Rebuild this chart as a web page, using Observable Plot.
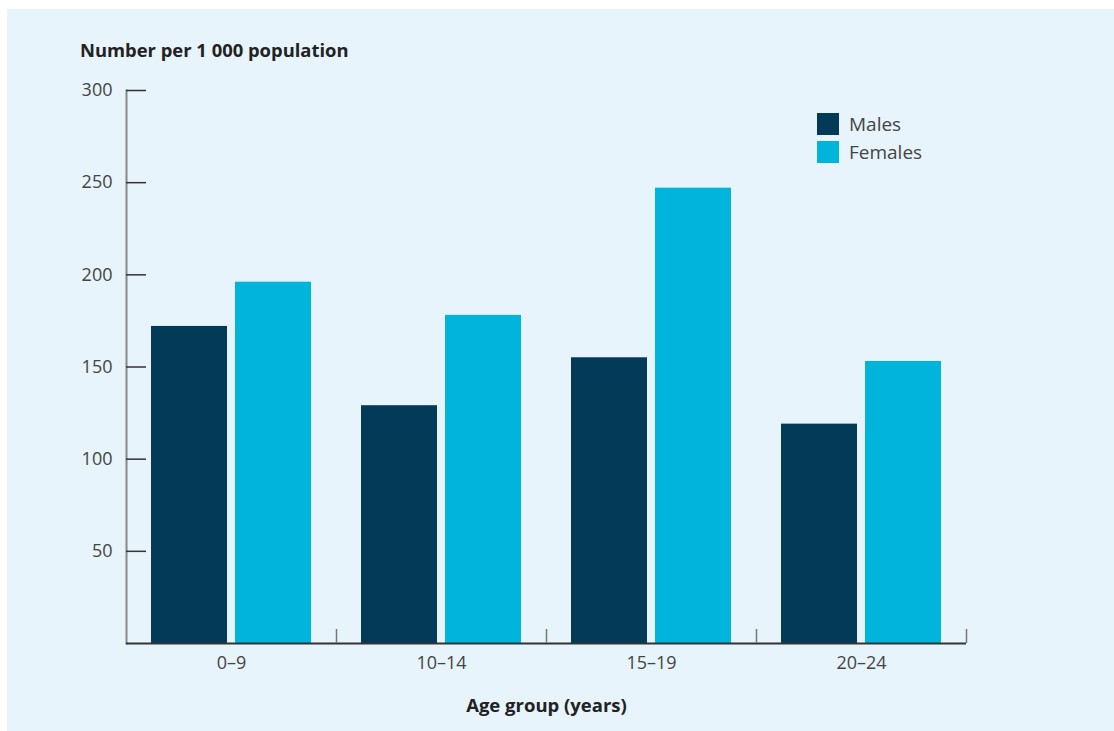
<!DOCTYPE html>
<html>
<head>
<meta charset="utf-8">
<script src="https://cdn.jsdelivr.net/npm/d3@7"></script>
<script src="https://cdn.jsdelivr.net/npm/@observablehq/plot@0.6"></script>
<style>
  html, body { margin: 0; padding: 0; background: #ffffff; }
  #panel {
    position: absolute; left: 7px; top: 9px; width: 1107px; height: 722px;
    background: #e7f4fb; font-family: "Open Sans", "Noto Sans", sans-serif; color: #222;
  }
  #title {
    height: 61px; box-sizing: border-box; padding: 30px 0 0 73px;
    font-size: 18.4px; font-weight: 700; line-height: 22px; color: #222;
  }
  #xlabel {
    width: 1107px; box-sizing: border-box; padding: 14px 0 0 0;
    text-align: center; font-size: 18.5px; font-weight: 700; line-height: 22px; color: #222;
    position: relative; left: -14px;
  }
  #legend { position: absolute; left: 810px; top: 101px; font-size: 19px; color: #444; }
  .item { display: flex; align-items: center; height: 28px; }
  .sw { width: 22px; height: 22px; margin-right: 10px; }
</style>
</head>
<body>
<div id="panel">
  <div id="title">Number per 1 000 population</div>
  <div id="chart"></div>
  <div id="xlabel">Age group (years)</div>
  <div id="legend"></div>
</div>
<script>
const groups = ["0–9", "10–14", "15–19", "20–24"];
const series = ["Males", "Females"];
const males = [172, 129, 155, 119];
const females = [196, 178, 247, 153];
const colors = ["#033a58", "#00b4dc"];
const yTicks = [50, 100, 150, 200, 250, 300];

const data = [];
groups.forEach((g, i) => {
  data.push({group: g, sex: "Males", value: males[i]});
  data.push({group: g, sex: "Females", value: females[i]});
});

const chart = Plot.plot({
  width: 1107,
  height: 610,
  marginTop: 20,
  marginBottom: 37,
  marginLeft: 119,
  marginRight: 148,
  style: {fontFamily: '"Open Sans", "Noto Sans", sans-serif', fontSize: "18px", color: "#444", background: "transparent", overflow: "visible"},
  fx: {domain: groups, padding: 0, label: null},
  x: {domain: series, paddingInner: 8 / 84, paddingOuter: 25 / 84, axis: null},
  y: {domain: [0, 300], label: null},
  color: {domain: series, range: colors},
  marks: [
    Plot.barY(data, {fx: "group", x: "sex", y: "value", fill: "sex"}),
    Plot.frame({anchor: "left", facetAnchor: "left", stroke: "#888", strokeWidth: 2}),
    Plot.ruleY([0], {stroke: "#333", strokeWidth: 2}),
    Plot.ruleX(["Females"], {stroke: "#777", strokeWidth: 1.5, dx: 63, insetTop: 553 - 14}),
    Plot.axisY({ticks: yTicks, tickSize: -20, tickFormat: () => "", stroke: "#333", strokeWidth: 1.5, label: null}),
    Plot.axisY({ticks: yTicks, tickSize: 0, tickPadding: 14, fill: "#444", label: null}),
    Plot.axisFx({anchor: "bottom", tickSize: 0, tickPadding: 13, fill: "#444", label: null})
  ]
});
document.getElementById("chart").appendChild(chart);

const legend = document.getElementById("legend");
series.forEach((s, i) => {
  const item = document.createElement("div");
  item.className = "item";
  item.innerHTML = `<div class="sw" style="background:${colors[i]}"></div><span>${s}</span>`;
  legend.appendChild(item);
});
</script>
</body>
</html>
